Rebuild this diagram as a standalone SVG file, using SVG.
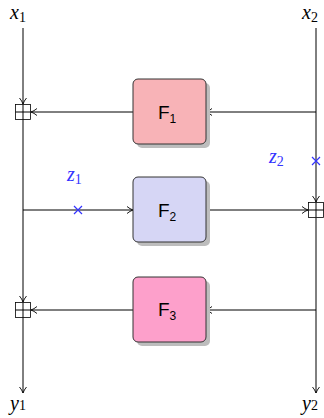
<svg xmlns="http://www.w3.org/2000/svg" width="324" height="418" viewBox="0 0 324 418">
<defs>
<style>
.ln{stroke:#000;stroke-width:1;fill:none}
.box{stroke:#333;stroke-width:1}
.sh{fill:#bdbdbd}
.xor{fill:#fff;stroke:#000;stroke-width:0.8}
.math{font-family:"Liberation Serif",serif;font-style:italic;font-size:20px}
.sub{font-family:"Liberation Serif",serif;font-style:normal;font-size:14px}
.lbl{font-family:"Liberation Sans",sans-serif;font-size:19px;fill:#000}
.lsub{font-size:12px}
.blue{fill:#3333ff}
.cross{stroke:#3333ff;stroke-width:1.2}
</style>
<marker id="ah" markerWidth="8" markerHeight="8" refX="7" refY="4" orient="auto" markerUnits="userSpaceOnUse">
<path d="M1,0.5 Q4,3 7,4 Q4,5 1,7.5" fill="none" stroke="#000" stroke-width="0.9"/>
</marker>
</defs>
<g id="connectors">
<line class="ln" x1="23" y1="28" x2="23" y2="104" marker-end="url(#ah)"/>
<line class="ln" x1="23" y1="119" x2="23" y2="302" marker-end="url(#ah)"/>
<line class="ln" x1="23" y1="317" x2="23" y2="393" marker-end="url(#ah)"/>
<line class="ln" x1="316" y1="28" x2="316" y2="202" marker-end="url(#ah)"/>
<line class="ln" x1="316" y1="218" x2="316" y2="393" marker-end="url(#ah)"/>
<line class="ln" x1="316" y1="112" x2="206" y2="112" marker-end="url(#ah)"/>
<line class="ln" x1="133" y1="112" x2="31" y2="112" marker-end="url(#ah)"/>
<line class="ln" x1="23" y1="210" x2="133" y2="210" marker-end="url(#ah)"/>
<line class="ln" x1="206" y1="210" x2="308" y2="210" marker-end="url(#ah)"/>
<line class="ln" x1="316" y1="310" x2="206" y2="310" marker-end="url(#ah)"/>
<line class="ln" x1="133" y1="310" x2="31" y2="310" marker-end="url(#ah)"/>
</g>
<g id="xor1">
<rect class="xor" x="15.5" y="104.5" width="15" height="15"/>
<path class="ln" d="M23,104.5V119.5M15.5,112H30.5" stroke-width="0.8"/>
</g>
<g id="xor2">
<rect class="xor" x="308.5" y="202.5" width="15" height="15"/>
<path class="ln" d="M316,202.5V217.5M308.5,210H323.5" stroke-width="0.8"/>
</g>
<g id="xor3">
<rect class="xor" x="15.5" y="302.5" width="15" height="15"/>
<path class="ln" d="M23,302.5V317.5M15.5,310H30.5" stroke-width="0.8"/>
</g>
<g id="F1">
<rect class="sh" x="137" y="83" width="73" height="65" rx="5"/>
<rect class="box" x="133" y="79" width="73" height="65" rx="5" fill="#f8b3b7"/>
<text class="lbl" x="158" y="119">F<tspan class="lsub" dy="4">1</tspan></text>
</g>
<g id="F2">
<rect class="sh" x="137" y="181" width="73" height="65" rx="5"/>
<rect class="box" x="133" y="177" width="73" height="65" rx="5" fill="#d6d6f5"/>
<text class="lbl" x="158" y="217">F<tspan class="lsub" dy="4">2</tspan></text>
</g>
<g id="F3">
<rect class="sh" x="137" y="281" width="73" height="65" rx="5"/>
<rect class="box" x="133" y="277" width="73" height="65" rx="5" fill="#fda0cb"/>
<text class="lbl" x="158" y="316">F<tspan class="lsub" dy="4">3</tspan></text>
</g>
<g id="labels">
<text class="math" x="10" y="19">x<tspan class="sub" dy="3">1</tspan></text>
<text class="math" x="302" y="19">x<tspan class="sub" dy="3">2</tspan></text>
<text class="math" x="10" y="410">y<tspan class="sub" dy="0">1</tspan></text>
<text class="math" x="302" y="410">y<tspan class="sub" dy="0">2</tspan></text>
<text class="math blue" x="67" y="181">z<tspan class="sub" dy="3">1</tspan></text>
<text class="math blue" x="269" y="163">z<tspan class="sub" dy="3">2</tspan></text>
</g>
<g id="z1cross"><path class="cross" d="M74,206L82,214M82,206L74,214"/></g>
<g id="z2cross"><path class="cross" d="M312,157L320,165M320,157L312,165"/></g>
</svg>
